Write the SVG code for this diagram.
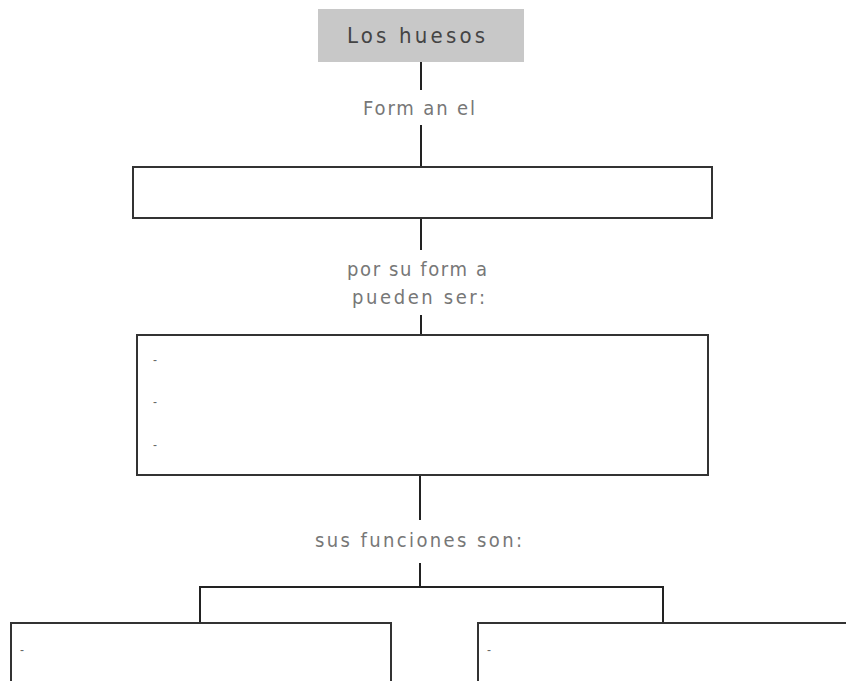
<svg xmlns="http://www.w3.org/2000/svg" width="846" height="681" viewBox="0 0 846 681">
<style>
.box{fill:#fff;stroke:#333;stroke-width:2}
.title{fill:#c8c8c8;stroke:none}
.lbl{font-family:"DejaVu Sans Condensed","DejaVu Sans","Liberation Sans",sans-serif;font-stretch:condensed;font-size:20px;fill:#777}
.ttl{font-family:"DejaVu Sans Condensed","DejaVu Sans","Liberation Sans",sans-serif;font-stretch:condensed;font-size:22px;fill:#444}
.dash{font-family:"Liberation Sans",sans-serif;font-size:12px;fill:#666}
.ln{stroke:#222;stroke-width:2;fill:none}
</style>
<rect width="846" height="681" fill="#fff"/>
<g id="connectors">
<line class="ln" x1="421" y1="62" x2="421" y2="90"/>
<line class="ln" x1="421" y1="125" x2="421" y2="167"/>
<line class="ln" x1="421" y1="218" x2="421" y2="250"/>
<line class="ln" x1="421" y1="315" x2="421" y2="335"/>
<line class="ln" x1="420" y1="475" x2="420" y2="520"/>
<line class="ln" x1="420" y1="563" x2="420" y2="587"/>
<polyline class="ln" points="200,623 200,587 663,587 663,623"/>
<text class="lbl" x="363" y="115" textLength="112" lengthAdjust="spacing">Form an el</text>
<text class="lbl" x="347" y="276" textLength="140" lengthAdjust="spacing">por su form a</text>
<text class="lbl" x="352" y="304" textLength="133" lengthAdjust="spacing">pueden ser:</text>
<text class="lbl" x="315" y="547" textLength="207" lengthAdjust="spacing">sus funciones son:</text>
</g>
<g id="n-huesos">
<rect class="title" x="318" y="9" width="206" height="53"/>
<text class="ttl" x="347" y="43" textLength="138" lengthAdjust="spacing">Los huesos</text>
</g>
<g id="n-esqueleto">
<rect class="box" x="133" y="167" width="579" height="51"/>
</g>
<g id="n-forma">
<rect class="box" x="137" y="335" width="571" height="140"/>
<text class="dash" x="153" y="364">-</text>
<text class="dash" x="153" y="406">-</text>
<text class="dash" x="153" y="449">-</text>
</g>
<g id="n-func1">
<rect class="box" x="11" y="623" width="380" height="70"/>
<text class="dash" x="20" y="654">-</text>
</g>
<g id="n-func2">
<rect class="box" x="478" y="623" width="380" height="70"/>
<text class="dash" x="487" y="654">-</text>
</g>
</svg>
